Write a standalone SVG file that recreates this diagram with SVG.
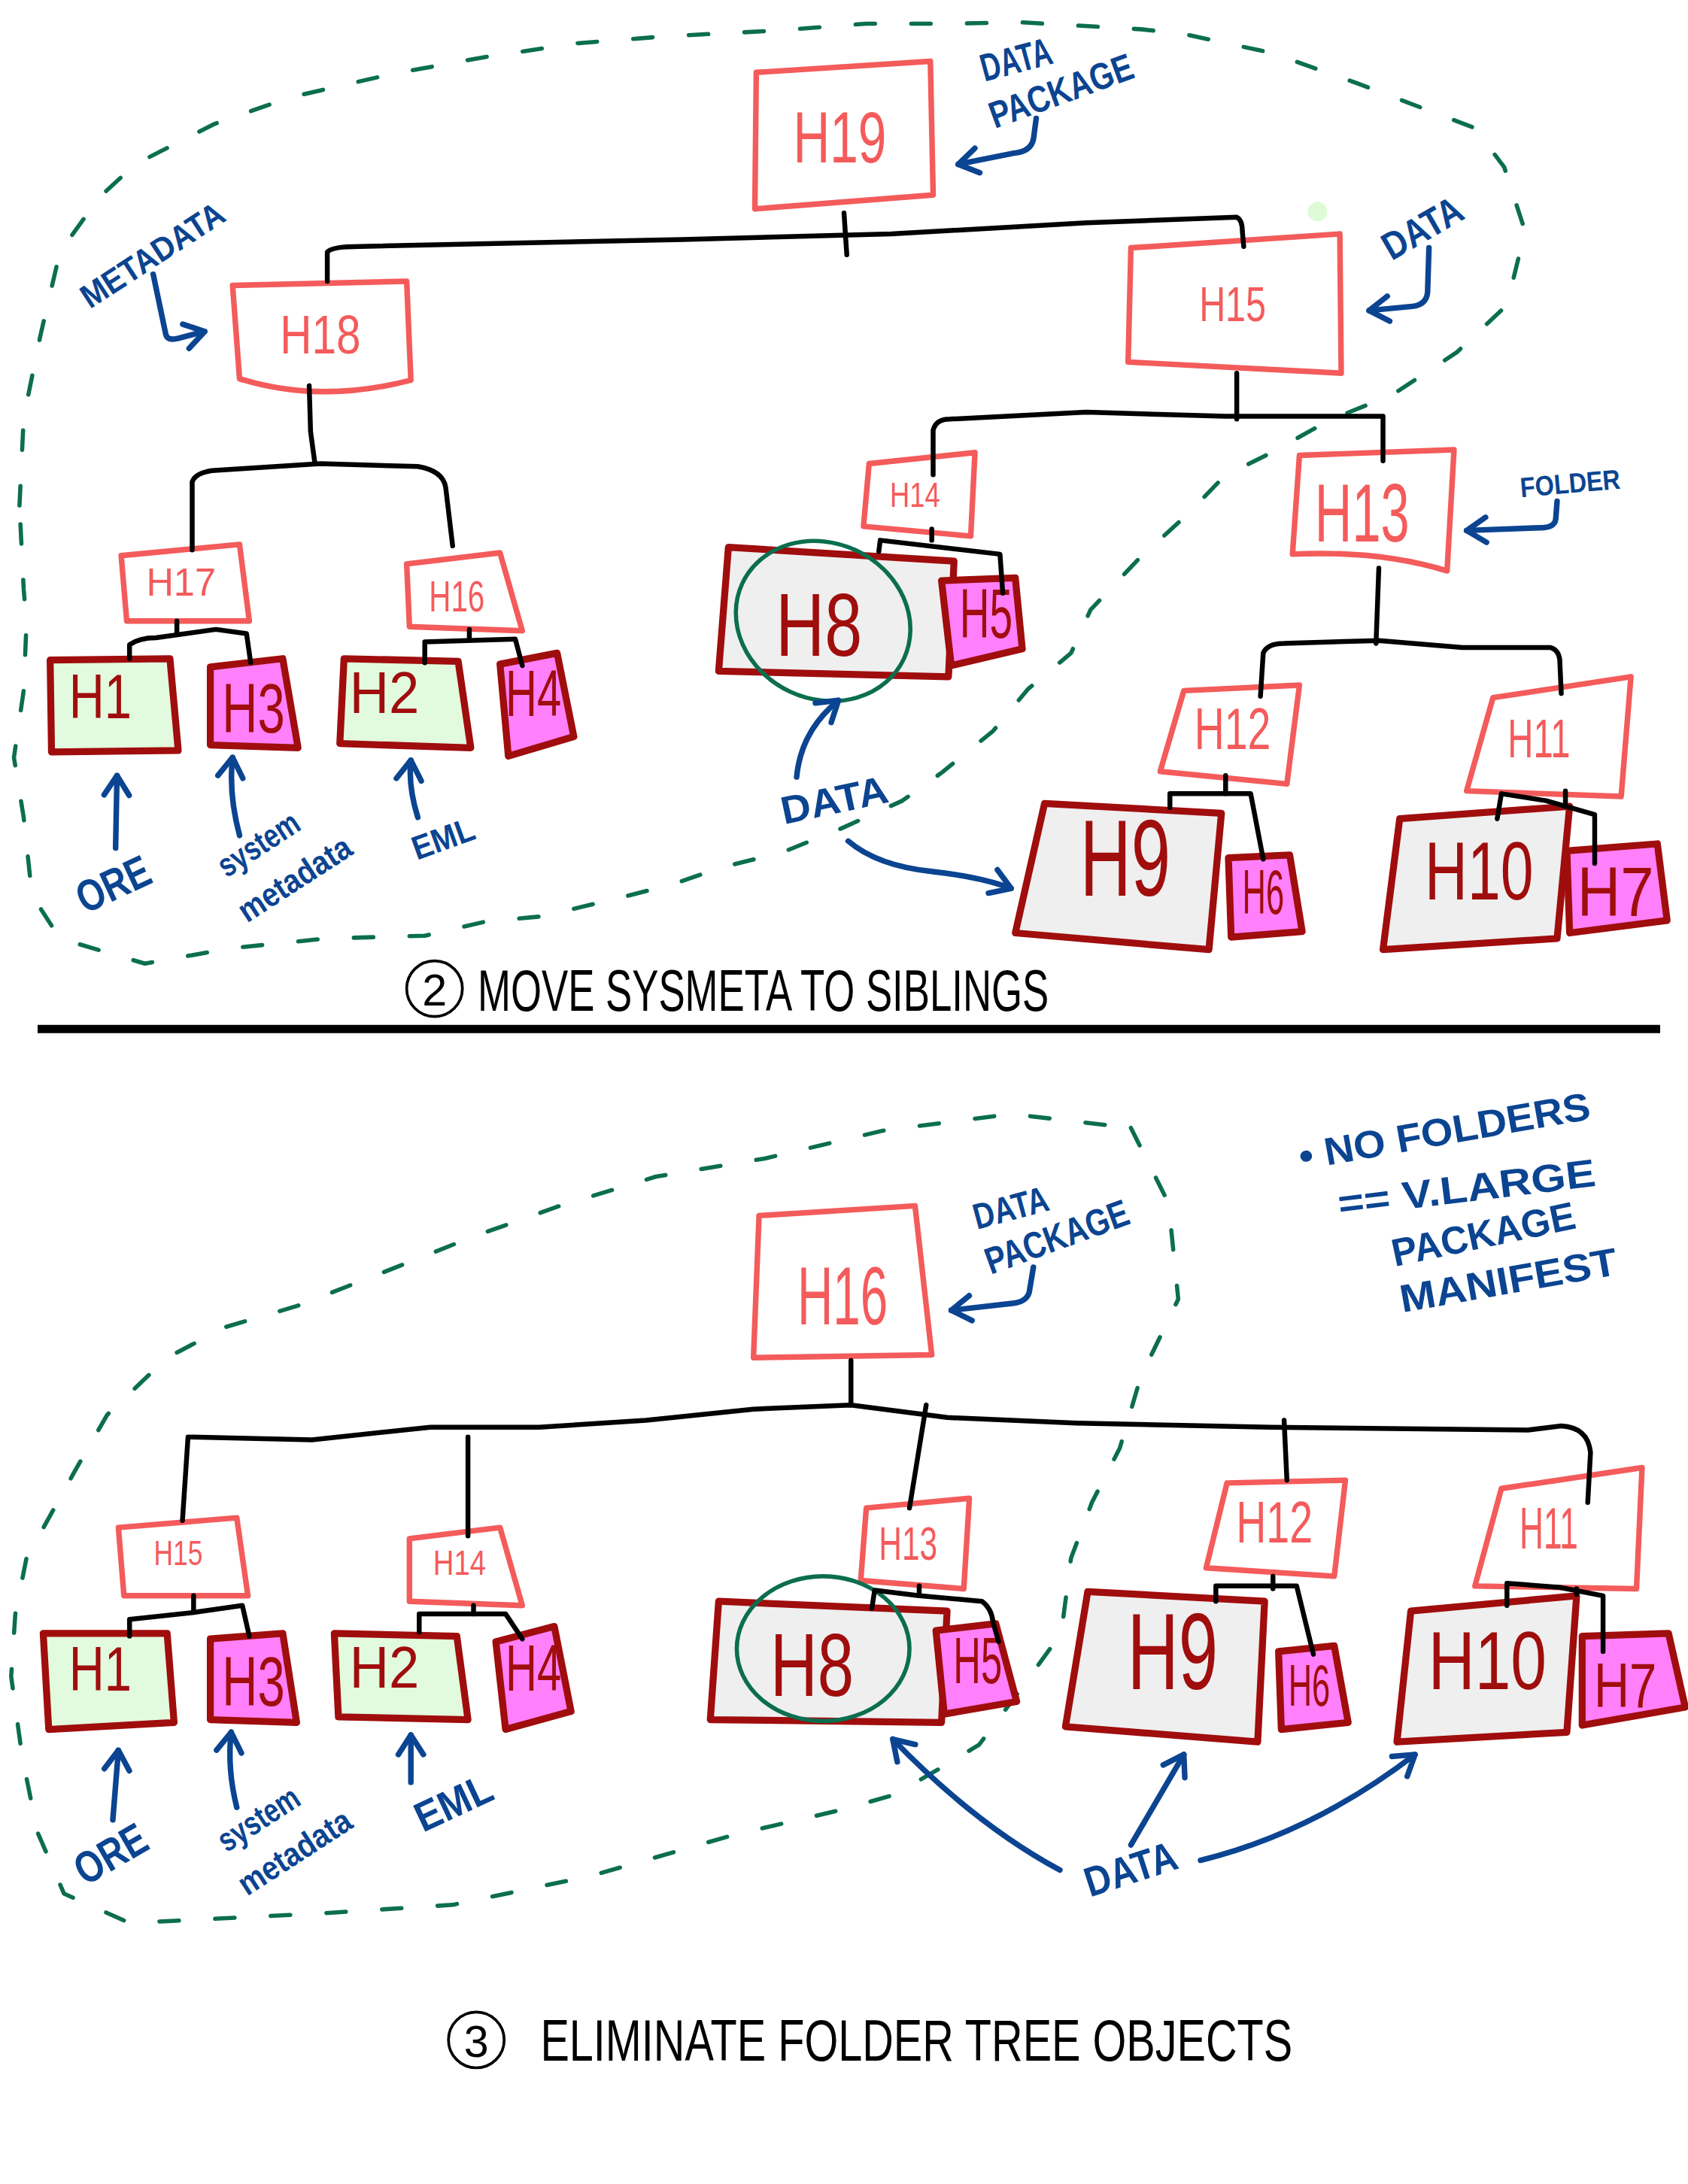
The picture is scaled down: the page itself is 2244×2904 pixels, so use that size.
<svg xmlns="http://www.w3.org/2000/svg" width="2244" height="2904" viewBox="0 0 2244 2904">
<style>
.fold{fill:#fff;stroke:#f45b5b;stroke-width:4;stroke-linejoin:round}
.data{stroke:#a00d0d;stroke-width:5;stroke-linejoin:round}
.gray{fill:#efefef}.grn{fill:#e2fbdf}.mag{fill:#ff80fa}
.lf{fill:#f45b5b;font-family:"Liberation Sans",Arial,sans-serif;text-anchor:middle}
.ld{fill:#a00d0d;font-family:"Liberation Sans",Arial,sans-serif;text-anchor:middle}
.conn{fill:none;stroke:#000;stroke-width:3.5;stroke-linecap:round;stroke-linejoin:round}
.bl{fill:none;stroke:#0b4491;stroke-width:4;stroke-linecap:round;stroke-linejoin:round;marker-end:url(#ah)}
.bt{fill:#0b4491;font-family:"Liberation Sans",Arial,sans-serif;font-weight:700;text-anchor:middle}
.dash{fill:none;stroke:#0b6e4f;stroke-width:3;stroke-dasharray:14 26;stroke-linecap:round;stroke-linejoin:round}
.circ{fill:none;stroke:#0b6e4f;stroke-width:3}
.cap{fill:#000;font-family:"Liberation Sans",Arial,sans-serif;text-anchor:middle}
</style>
<defs>
<marker id="ah" markerUnits="userSpaceOnUse" viewBox="-20 -14 26 28" markerWidth="26" markerHeight="28" refX="0" refY="0" orient="auto" overflow="visible">
<path d="M-14,-9 L0,0 L-14,9" fill="none" stroke="#0b4491" stroke-width="4" stroke-linecap="round" stroke-linejoin="round"/>
</marker>
</defs>
<rect width="2244" height="2904" fill="#fff"/>
<g transform="scale(1.8515)">
<g id="outlines">
<path class="dash" d="M14,363 L17,300 L29,241 L43,181 L71,142 L97,118 L154,89 L208,70 L282,53 L348,41 L415,31 L479,26 L557,22 L622,17 L684,17 L733,16 L819,21 L848,24 L913,38 L975,60 L1059,92 L1080,120 L1095,166 L1082,219 L1046,253 L999,284 L956,301 L911,326 L879,342 L853,369 L817,402 L783,438 L769,469 L738,495 L713,525 L676,555 L648,575 L604,595 L562,612 L518,623 L483,635 L452,643 L390,658 L348,662 L305,672 L234,674 L166,681 L104,692 L43,674 L23,643 L17,587 L10,544 L17,496 L19,448 L17,423 Z"/>
<path class="dash" d="M812,810 L839,864 L846,933 L819,989 L804,1040 L784,1079 L769,1119 L762,1173 L730,1217 L703,1253 L680,1267 L642,1289 L603,1300 L526,1318 L425,1347 L325,1368 L232,1374 L154,1378 L93,1381 L46,1360 L27,1316 L16,1262 L8,1204 L11,1159 L19,1119 L54,1056 L77,1016 L120,975 L162,953 L213,938 L267,917 L340,888 L402,866 L471,845 L549,832 L634,812 L726,800 Z"/>
<circle cx="946" cy="152" r="7" fill="#dcfbd6"/>
</g>

<!-- top tree nodes -->
<g id="t-h19"><path class="fold" d="M543,52 L668,44 L670,140 L542,150 Z"/><text class="lf" x="603" y="116.5" font-size="52" textLength="67" lengthAdjust="spacingAndGlyphs">H19</text></g>
<g id="t-h18"><path class="fold" d="M167,205 L292,202 L295,273 Q230,290 172,272 Z"/><text class="lf" x="230" y="254" font-size="39" textLength="58" lengthAdjust="spacingAndGlyphs">H18</text></g>
<g id="t-h15"><path class="fold" d="M812,178 L962,168 L963,268 L810,260 Z"/><text class="lf" x="885" y="230.5" font-size="35" textLength="48" lengthAdjust="spacingAndGlyphs">H15</text></g>
<g id="t-h17"><path class="fold" d="M87,399 L172,391 L179,446 L91,446 Z"/><text class="lf" x="130" y="428" font-size="28" textLength="50" lengthAdjust="spacingAndGlyphs">H17</text></g>
<g id="t-h16"><path class="fold" d="M292,405 L359,397 L375,453 L294,450 Z"/><text class="lf" x="328" y="439" font-size="31" textLength="40" lengthAdjust="spacingAndGlyphs">H16</text></g>
<g id="t-h1"><path class="data grn" d="M36,474 L122,473 L128,539 L37,540 Z"/><text class="ld" x="72" y="516" font-size="45" textLength="45" lengthAdjust="spacingAndGlyphs">H1</text></g>
<g id="t-h3"><path class="data mag" d="M151,479 L203,473 L214,537 L151,535 Z"/><text class="ld" x="182" y="526" font-size="50" textLength="45" lengthAdjust="spacingAndGlyphs">H3</text></g>
<g id="t-h2"><path class="data grn" d="M247,473 L329,475 L338,537 L244,534 Z"/><text class="ld" x="276" y="512" font-size="42" textLength="50" lengthAdjust="spacingAndGlyphs">H2</text></g>
<g id="t-h4"><path class="data mag" d="M359,477 L400,469 L412,529 L365,543 Z"/><text class="ld" x="383" y="514" font-size="47" textLength="40" lengthAdjust="spacingAndGlyphs">H4</text></g>
<g id="t-h14"><path class="fold" d="M624,333 L700,325 L697,385 L620,378 Z"/><text class="lf" x="657" y="364" font-size="25" textLength="36" lengthAdjust="spacingAndGlyphs">H14</text></g>
<g id="t-h13"><path class="fold" d="M933,327 L1044,323 L1039,410 Q990,395 928,398 Z"/><text class="lf" x="978" y="389" font-size="59" textLength="68" lengthAdjust="spacingAndGlyphs">H13</text></g>
<g id="t-h8"><path class="data gray" d="M523,393 L685,403 L681,486 L516,482 Z"/><text class="ld" x="588" y="471" font-size="64" textLength="62" lengthAdjust="spacingAndGlyphs">H8</text></g>
<g id="t-h5"><path class="data mag" d="M676,417 L729,415 L734,466 L683,478 Z"/><text class="ld" x="708" y="458" font-size="50" textLength="38" lengthAdjust="spacingAndGlyphs">H5</text></g>
<g id="t-h12"><path class="fold" d="M850,496 L933,492 L924,563 L833,554 Z"/><text class="lf" x="885" y="538" font-size="42" textLength="55" lengthAdjust="spacingAndGlyphs">H12</text></g>
<g id="t-h11"><path class="fold" d="M1072,501 L1171,486 L1164,572 L1053,568 Z"/><text class="lf" x="1105" y="544" font-size="39" textLength="45" lengthAdjust="spacingAndGlyphs">H11</text></g>
<g id="t-h9"><path class="data gray" d="M750,577 L877,584 L868,682 L729,670 Z"/><text class="ld" x="808" y="643" font-size="78" textLength="65" lengthAdjust="spacingAndGlyphs">H9</text></g>
<g id="t-h6"><path class="data mag" d="M882,616 L926,614 L935,669 L884,673 Z"/><text class="ld" x="907" y="656" font-size="45" textLength="30" lengthAdjust="spacingAndGlyphs">H6</text></g>
<g id="t-h10"><path class="data gray" d="M1005,588 L1127,579 L1118,674 L993,682 Z"/><text class="ld" x="1062" y="646" font-size="59" textLength="78" lengthAdjust="spacingAndGlyphs">H10</text></g>
<g id="t-h7"><path class="data mag" d="M1125,611 L1190,606 L1197,661 L1127,670 Z"/><text class="ld" x="1160" y="658" font-size="50" textLength="55" lengthAdjust="spacingAndGlyphs">H7</text></g>
<ellipse class="circ" cx="591" cy="446" rx="64" ry="56" transform="rotate(25 591 446)"/>

<!-- bottom tree nodes -->
<g id="b-h16"><path class="fold" d="M545,873 L657,866 L669,973 L541,975 Z"/><text class="lf" x="605" y="951" font-size="59" textLength="65" lengthAdjust="spacingAndGlyphs">H16</text></g>
<g id="b-h15"><path class="fold" d="M85,1097 L170,1090 L178,1146 L89,1146 Z"/><text class="lf" x="128" y="1124" font-size="25" textLength="35" lengthAdjust="spacingAndGlyphs">H15</text></g>
<g id="b-h14"><path class="fold" d="M294,1105 L359,1097 L375,1153 L294,1150 Z"/><text class="lf" x="330" y="1131" font-size="25" textLength="38" lengthAdjust="spacingAndGlyphs">H14</text></g>
<g id="b-h13"><path class="fold" d="M622,1083 L696,1076 L692,1141 L618,1135 Z"/><text class="lf" x="652" y="1120" font-size="34" textLength="42" lengthAdjust="spacingAndGlyphs">H13</text></g>
<g id="b-h12"><path class="fold" d="M881,1065 L966,1063 L958,1132 L866,1126 Z"/><text class="lf" x="915" y="1108" font-size="42" textLength="55" lengthAdjust="spacingAndGlyphs">H12</text></g>
<g id="b-h11"><path class="fold" d="M1078,1069 L1179,1054 L1175,1141 L1059,1139 Z"/><text class="lf" x="1112" y="1112" font-size="42" textLength="42" lengthAdjust="spacingAndGlyphs">H11</text></g>
<g id="b-h1"><path class="data grn" d="M31,1173 L120,1173 L125,1237 L35,1242 Z"/><text class="ld" x="72" y="1214" font-size="45" textLength="45" lengthAdjust="spacingAndGlyphs">H1</text></g>
<g id="b-h3"><path class="data mag" d="M151,1177 L203,1173 L213,1237 L151,1235 Z"/><text class="ld" x="182" y="1225" font-size="50" textLength="45" lengthAdjust="spacingAndGlyphs">H3</text></g>
<g id="b-h2"><path class="data grn" d="M240,1173 L328,1175 L336,1235 L243,1233 Z"/><text class="ld" x="276" y="1212" font-size="42" textLength="50" lengthAdjust="spacingAndGlyphs">H2</text></g>
<g id="b-h4"><path class="data mag" d="M356,1179 L398,1168 L410,1229 L363,1242 Z"/><text class="ld" x="383" y="1214" font-size="47" textLength="40" lengthAdjust="spacingAndGlyphs">H4</text></g>
<g id="b-h8"><path class="data gray" d="M516,1150 L680,1157 L676,1237 L510,1235 Z"/><text class="ld" x="583" y="1218" font-size="64" textLength="60" lengthAdjust="spacingAndGlyphs">H8</text></g>
<g id="b-h5"><path class="data mag" d="M672,1171 L715,1166 L730,1222 L678,1231 Z"/><text class="ld" x="702" y="1209" font-size="47" textLength="35" lengthAdjust="spacingAndGlyphs">H5</text></g>
<g id="b-h9"><path class="data gray" d="M781,1143 L908,1150 L903,1251 L765,1240 Z"/><text class="ld" x="842" y="1213" font-size="78" textLength="65" lengthAdjust="spacingAndGlyphs">H9</text></g>
<g id="b-h6"><path class="data mag" d="M918,1186 L958,1182 L968,1237 L920,1242 Z"/><text class="ld" x="940" y="1225" font-size="42" textLength="30" lengthAdjust="spacingAndGlyphs">H6</text></g>
<g id="b-h10"><path class="data gray" d="M1013,1157 L1132,1146 L1125,1244 L1003,1251 Z"/><text class="ld" x="1068" y="1213" font-size="59" textLength="85" lengthAdjust="spacingAndGlyphs">H10</text></g>
<g id="b-h7"><path class="data mag" d="M1136,1175 L1198,1173 L1210,1226 L1136,1239 Z"/><text class="ld" x="1167" y="1226" font-size="45" textLength="45" lengthAdjust="spacingAndGlyphs">H7</text></g>
<ellipse class="circ" cx="591" cy="1184" rx="62" ry="52"/>

<g id="connectors">
<path class="conn" d="M606,153 L608,183"/>
<path class="conn" d="M235,202 L235,181 Q238,177 258,177 L490,172 L640,168 L780,160 L888,156 Q892,158 892,166 L893,177"/>
<path class="conn" d="M222,277 L223,310 L226,332"/>
<path class="conn" d="M138,395 L138,346 Q140,340 152,338 L230,333 L300,335 Q318,338 320,350 L325,392"/>
<path class="conn" d="M127,446 L127,455"/>
<path class="conn" d="M93,473 L93,463 Q100,458 112,458 L155,452 L177,455 L180,476"/>
<path class="conn" d="M337,452 L337,459"/>
<path class="conn" d="M305,476 L305,461 L370,459 L375,478"/>
<path class="conn" d="M888,268 L888,301"/>
<path class="conn" d="M670,341 L670,309 Q672,301 682,301 L780,296 L880,299 L993,299 L993,331"/>
<path class="conn" d="M669,380 L669,388"/>
<path class="conn" d="M631,396 L632,388 L718,398 L720,426"/>
<path class="conn" d="M990,408 L988,462"/>
<path class="conn" d="M905,500 L907,469 Q910,462 922,462 L990,460 L1050,465 L1113,465 Q1120,467 1120,476 L1121,498"/>
<path class="conn" d="M880,557 L880,570"/>
<path class="conn" d="M840,580 L840,570 L898,570 L907,617"/>
<path class="conn" d="M1124,568 L1124,576"/>
<path class="conn" d="M1075,588 L1078,570 L1110,575 L1145,585 L1145,620"/>
<path class="conn" d="M611,977 L611,1009"/>
<path class="conn" d="M131,1092 L135,1032 L224,1034 L309,1025 L387,1025 L464,1020 L541,1012 L611,1009 L680,1018 L773,1022 L912,1025 L1097,1027 L1121,1024 Q1140,1025 1142,1043 L1140,1079"/>
<path class="conn" d="M336,1032 L336,1103"/>
<path class="conn" d="M665,1009 L653,1083"/>
<path class="conn" d="M922,1020 L924,1063"/>
<path class="conn" d="M139,1146 L139,1158"/>
<path class="conn" d="M93,1175 L93,1163 L139,1158 L174,1153 L179,1175"/>
<path class="conn" d="M340,1153 L340,1159"/>
<path class="conn" d="M301,1172 L301,1159 L363,1159 L375,1177"/>
<path class="conn" d="M660,1139 L660,1146"/>
<path class="conn" d="M626,1155 L628,1142 L660,1146 L705,1150 Q712,1155 713,1165 L717,1179"/>
<path class="conn" d="M914,1132 L914,1141"/>
<path class="conn" d="M873,1150 L873,1139 L931,1139 L943,1188"/>
<path class="conn" d="M1132,1141 L1132,1145"/>
<path class="conn" d="M1082,1153 L1082,1137 L1120,1140 L1151,1146 L1151,1186"/>
</g>

<g id="annotations">
<text class="bt" transform="translate(732,52) rotate(-15)" font-size="28" textLength="52" lengthAdjust="spacingAndGlyphs">DATA</text>
<text class="bt" transform="translate(765,74) rotate(-20)" font-size="27" textLength="108" lengthAdjust="spacingAndGlyphs">PACKAGE</text>
<path class="bl" d="M744,85 L742,100 Q740,109 728,110 L688,118"/>
<text class="bt" transform="translate(114,190) rotate(-33)" font-size="24" textLength="118" lengthAdjust="spacingAndGlyphs">METADATA</text>
<path class="bl" d="M110,197 L119,240 Q120,245 128,243 L147,238"/>
<text class="bt" transform="translate(1026,172) rotate(-30)" font-size="28" textLength="62" lengthAdjust="spacingAndGlyphs">DATA</text>
<path class="bl" d="M1026,178 L1025,210 Q1024,219 1014,220 L983,223"/>
<text class="bt" transform="translate(1128,354) rotate(-5)" font-size="20" textLength="72" lengthAdjust="spacingAndGlyphs">FOLDER</text>
<path class="bl" d="M1118,360 L1117,373 Q1116,379 1106,379 L1053,381"/>
<text class="bt" transform="translate(601,584) rotate(-12)" font-size="28" textLength="78" lengthAdjust="spacingAndGlyphs">DATA</text>
<path class="bl" d="M572,558 Q575,525 602,503"/>
<path class="bl" d="M609,604 Q630,622 670,626 Q705,630 726,638"/>
<text class="bt" transform="translate(86,645) rotate(-25)" font-size="32" textLength="55" lengthAdjust="spacingAndGlyphs">ORE</text>
<path class="bl" d="M83,609 L84,557"/>
<text class="bt" transform="translate(190,613) rotate(-33)" font-size="24" textLength="65" lengthAdjust="spacingAndGlyphs">system</text>
<text class="bt" transform="translate(216,638) rotate(-33)" font-size="24" textLength="92" lengthAdjust="spacingAndGlyphs">metadata</text>
<path class="bl" d="M172,600 Q164,570 167,544"/>
<text class="bt" transform="translate(321,610) rotate(-20)" font-size="24" textLength="46" lengthAdjust="spacingAndGlyphs">EML</text>
<path class="bl" d="M300,587 Q293,565 295,546"/>

<text class="bt" transform="translate(728,876) rotate(-15)" font-size="26" textLength="55" lengthAdjust="spacingAndGlyphs">DATA</text>
<text class="bt" transform="translate(762,897) rotate(-20)" font-size="27" textLength="108" lengthAdjust="spacingAndGlyphs">PACKAGE</text>
<path class="bl" d="M742,910 L739,928 Q737,935 727,936 L683,941"/>
<text class="bt" transform="translate(1037,812) rotate(-10)" y="10" font-size="28" textLength="212" lengthAdjust="spacingAndGlyphs">• NO FOLDERS</text>
<text class="bt" transform="translate(1053,853) rotate(-7)" y="10" font-size="28" textLength="186" lengthAdjust="spacingAndGlyphs">== V.LARGE</text>
<text class="bt" transform="translate(1065,886) rotate(-12)" y="10" font-size="28" textLength="134" lengthAdjust="spacingAndGlyphs">PACKAGE</text>
<text class="bt" transform="translate(1083,919) rotate(-10)" y="10" font-size="28" textLength="158" lengthAdjust="spacingAndGlyphs">MANIFEST</text>
<text class="bt" transform="translate(85,1341) rotate(-30)" font-size="32" textLength="55" lengthAdjust="spacingAndGlyphs">ORE</text>
<path class="bl" d="M81,1307 L85,1257"/>
<text class="bt" transform="translate(190,1313) rotate(-33)" font-size="24" textLength="65" lengthAdjust="spacingAndGlyphs">system</text>
<text class="bt" transform="translate(216,1337) rotate(-33)" font-size="24" textLength="92" lengthAdjust="spacingAndGlyphs">metadata</text>
<path class="bl" d="M170,1298 Q163,1270 166,1244"/>
<text class="bt" transform="translate(330,1304) rotate(-25)" font-size="30" textLength="58" lengthAdjust="spacingAndGlyphs">EML</text>
<path class="bl" d="M295,1280 L295,1246"/>
<text class="bt" transform="translate(815,1352) rotate(-18)" font-size="30" textLength="68" lengthAdjust="spacingAndGlyphs">DATA</text>
<path class="bl" d="M761,1343 Q700,1310 641,1249"/>
<path class="bl" d="M812,1325 L850,1260"/>
<path class="bl" d="M862,1336 Q943,1316 1016,1260"/>
</g>

<g id="captions">
<circle cx="312" cy="710" r="20" fill="none" stroke="#000" stroke-width="2"/>
<text class="cap" x="312" y="722" font-size="32">2</text>
<text class="cap" x="548" y="726" font-size="42" textLength="410" lengthAdjust="spacingAndGlyphs">MOVE SYSMETA TO SIBLINGS</text>
<path d="M27,739 L1192,739" stroke="#000" stroke-width="6" fill="none"/>
<circle cx="342" cy="1465" r="20" fill="none" stroke="#000" stroke-width="2"/>
<text class="cap" x="342" y="1477" font-size="32">3</text>
<text class="cap" x="658" y="1480" font-size="42" textLength="540" lengthAdjust="spacingAndGlyphs">ELIMINATE FOLDER TREE OBJECTS</text>
</g>
</g>
</svg>
